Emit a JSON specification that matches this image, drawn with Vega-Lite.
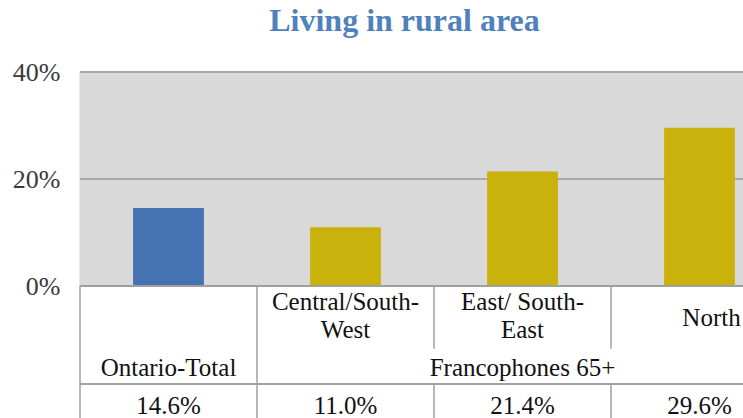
{
  "$schema": "https://vega.github.io/schema/vega-lite/v6.json",
  "width": 663,
  "height": 346,
  "autosize": "none",
  "padding": {"left": 80, "top": 72, "right": 0, "bottom": 0},
  "background": "white",
  "config": {"view": {"stroke": null}},
  "title": {
    "text": "Living in rural area",
    "font": "Liberation Serif",
    "fontSize": 32,
    "fontWeight": "bold",
    "color": "#4f81bd",
    "anchor": "middle",
    "dx": -7,
    "offset": 21
  },
  "data": {
    "values": [
      {"cat": "Ontario-Total", "header": "", "grouplabel": "Ontario-Total", "value": 0.146, "series": "Ontario"},
      {"cat": "Central/South-West", "header": "Central/South-\nWest", "grouplabel": "", "value": 0.110, "series": "Francophones 65+"},
      {"cat": "East/ South-East", "header": "East/ South-\nEast", "grouplabel": "Francophones 65+", "value": 0.214, "series": "Francophones 65+"},
      {"cat": "North", "header": "North", "grouplabel": "", "value": 0.296, "series": "Francophones 65+"}
    ]
  },
  "layer": [
    {
      "layer": [
        {
          "mark": {"type": "rect", "color": "#d9d9d9"},
          "encoding": {
            "y": {"datum": 0, "type": "quantitative"},
            "y2": {"datum": 0.4}
          }
        },
        {
          "mark": {"type": "rule", "color": "#a8a8a8", "strokeWidth": 1.5},
          "encoding": {"y": {"datum": 0.2, "type": "quantitative"}}
        },
        {
          "mark": {"type": "rule", "color": "#a8a8a8", "strokeWidth": 1.5},
          "encoding": {"y": {"datum": 0.4, "type": "quantitative"}}
        },
        {
          "mark": {"type": "bar"},
          "encoding": {
            "x": {
              "field": "cat",
              "type": "nominal",
              "sort": null,
              "scale": {"range": [0, 708], "paddingInner": 0.6, "paddingOuter": 0.3},
              "axis": null
            },
            "y": {
              "field": "value",
              "type": "quantitative",
              "scale": {"domain": [0, 0.4], "range": [214, 0], "nice": false, "zero": true},
              "axis": {
                "values": [0, 0.2, 0.4],
                "format": ".0%",
                "title": null,
                "grid": false,
                "ticks": false,
                "domain": true,
                "domainColor": "#a8a8a8",
                "domainWidth": 1.5,
                "labelFont": "Liberation Serif",
                "labelFontSize": 26,
                "labelColor": "#3a3a3a",
                "labelPadding": 20
              }
            },
            "color": {
              "field": "series",
              "type": "nominal",
              "scale": {"domain": ["Ontario", "Francophones 65+"], "range": ["#4472b3", "#c9b20b"]},
              "legend": null
            }
          }
        }
      ]
    },
    {
      "layer": [
        {
          "mark": {"type": "rule", "color": "#a0a0a0", "strokeWidth": 1.5},
          "encoding": {"y": {"datum": 0, "type": "quantitative"}}
        },
        {
          "mark": {"type": "rule", "color": "#a0a0a0", "strokeWidth": 1.5},
          "encoding": {"y": {"datum": 2.97, "type": "quantitative"}}
        },
        {
          "transform": [{"filter": "datum.cat == 'Ontario-Total' || datum.cat == 'Central/South-West'"}],
          "mark": {"type": "rule", "color": "#a0a0a0", "strokeWidth": 1.5},
          "encoding": {
            "x": {
              "field": "cat",
              "type": "nominal",
              "sort": null,
              "bandPosition": 0,
              "scale": {"domain": ["Ontario-Total", "Central/South-West", "East/ South-East", "North"], "range": [0, 708], "paddingInner": 0, "paddingOuter": 0},
              "axis": null
            },
            "y": {"datum": 0, "type": "quantitative"},
            "y2": {"datum": 4}
          }
        },
        {
          "transform": [{"filter": "datum.cat == 'East/ South-East' || datum.cat == 'North'"}],
          "mark": {"type": "rule", "color": "#a0a0a0", "strokeWidth": 1.5},
          "encoding": {
            "x": {"field": "cat", "type": "nominal", "bandPosition": 0},
            "y": {"datum": 0, "type": "quantitative"},
            "y2": {"datum": 1.9}
          }
        },
        {
          "transform": [{"filter": "datum.cat == 'East/ South-East' || datum.cat == 'North'"}],
          "mark": {"type": "rule", "color": "#a0a0a0", "strokeWidth": 1.5},
          "encoding": {
            "x": {"field": "cat", "type": "nominal", "bandPosition": 0},
            "y": {"datum": 2.97, "type": "quantitative"},
            "y2": {"datum": 4}
          }
        },
        {
          "transform": [{"filter": "datum.cat == 'Central/South-West' || datum.cat == 'East/ South-East'"}],
          "mark": {"type": "text", "font": "Liberation Serif", "fontSize": 25, "color": "#111111", "lineBreak": "\n", "lineHeight": 28, "baseline": "middle"},
          "encoding": {
            "x": {"field": "cat", "type": "nominal"},
            "y": {"datum": 0.49, "type": "quantitative"},
            "text": {"field": "header"}
          }
        },
        {
          "transform": [{"filter": "datum.cat == 'North'"}],
          "mark": {"type": "text", "font": "Liberation Serif", "fontSize": 25, "color": "#111111", "baseline": "middle", "dx": 12},
          "encoding": {
            "x": {"field": "cat", "type": "nominal"},
            "y": {"datum": 0.98, "type": "quantitative"},
            "text": {"field": "header"}
          }
        },
        {
          "mark": {"type": "text", "font": "Liberation Serif", "fontSize": 25, "color": "#111111", "baseline": "middle"},
          "encoding": {
            "x": {"field": "cat", "type": "nominal"},
            "y": {"datum": 2.47, "type": "quantitative"},
            "text": {"field": "grouplabel"}
          }
        },
        {
          "mark": {"type": "text", "font": "Liberation Serif", "fontSize": 25, "color": "#111111", "baseline": "middle"},
          "encoding": {
            "x": {"field": "cat", "type": "nominal"},
            "y": {"datum": 3.63, "type": "quantitative"},
            "text": {"field": "value", "format": ".1%"}
          }
        }
      ],
      "encoding": {
        "y": {
          "type": "quantitative",
          "scale": {"domain": [0, 4], "range": [214, 346], "nice": false, "zero": false},
          "axis": null
        }
      }
    }
  ],
  "resolve": {"scale": {"x": "independent", "y": "independent", "color": "independent"}}
}
